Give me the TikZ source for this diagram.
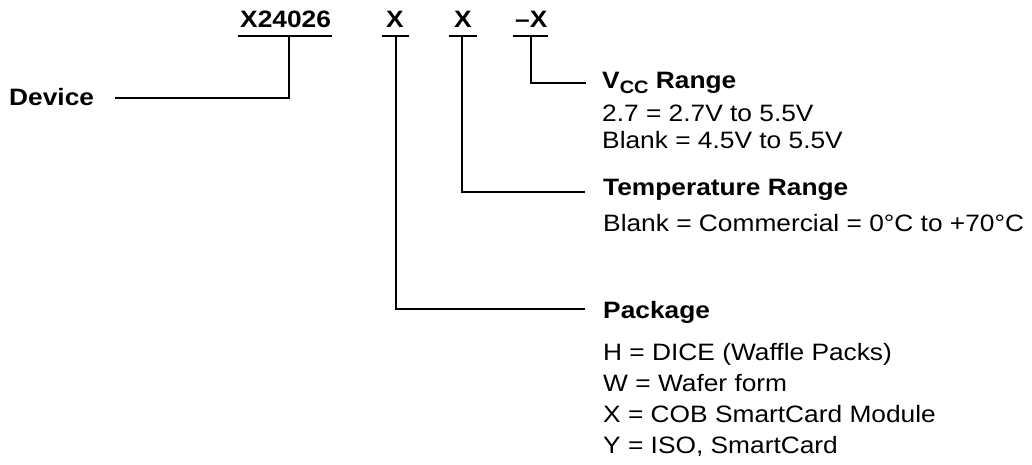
\documentclass[tikz,border=0pt]{standalone}
\usepackage{fontspec}
\setmainfont[FakeStretch=1.11]{Liberation Sans}
\begin{document}
\begin{tikzpicture}[x=1pt,y=-1pt,
  lbl/.style={anchor=base west, inner sep=0pt, font=\fontsize{23.7}{28}\selectfont},
  hd/.style={lbl, font=\fontsize{23.7}{28}\selectfont\bfseries},
  wire/.style={line width=1.3pt, line cap=butt}]
\useasboundingbox (0,0) rectangle (1032,465);
% part number fields
\node[hd] (pX) at (240,28) {X24026};
\node[hd] (pP) at (386,28) {X};
\node[hd] (pT) at (454,28) {X};
\node[hd] (pV) at (515,28) {–X};
% underlines
\draw[wire] (238,36) -- (332,36);
\draw[wire] (382,36) -- (409,36);
\draw[wire] (449,36) -- (477,36);
\draw[wire] (513,36) -- (548,36);
% labels
\node[hd] (ldev) at (9,106) {Device};
\node[hd] (lvcc) at (602,89) {V\raisebox{-5pt}{\fontsize{18}{18}\selectfont CC}\ Range};
\node[lbl] (v1) at (602,122) {2.7 = 2.7V to 5.5V};
\node[lbl] (v2) at (602,149) {Blank = 4.5V to 5.5V};
\node[hd] (ltmp) at (603,195) {Temperature Range};
\node[lbl] (t1) at (603,231) {Blank = Commercial = 0°C to +70°C};
\node[hd] (lpkg) at (603,318) {Package};
\node[lbl] (k1) at (603,360) {H = DICE (Waffle Packs)};
\node[lbl] (k2) at (603,391) {W = Wafer form};
\node[lbl] (k3) at (603,422) {X = COB SmartCard Module};
\node[lbl] (k4) at (603,453) {Y = ISO, SmartCard};
% connector ends
\coordinate (dA) at (289,36);  \coordinate (dB) at (115,98);
\coordinate (kA) at (396,36);  \coordinate (kB) at (585,309);
\coordinate (tA) at (462,36);  \coordinate (tB) at (585,192);
\coordinate (vA) at (531,36);  \coordinate (vB) at (586,83);
\draw[wire] (dA) |- (dB);
\draw[wire] (kA) |- (kB);
\draw[wire] (tA) |- (tB);
\draw[wire] (vA) |- (vB);
\end{tikzpicture}
\end{document}
